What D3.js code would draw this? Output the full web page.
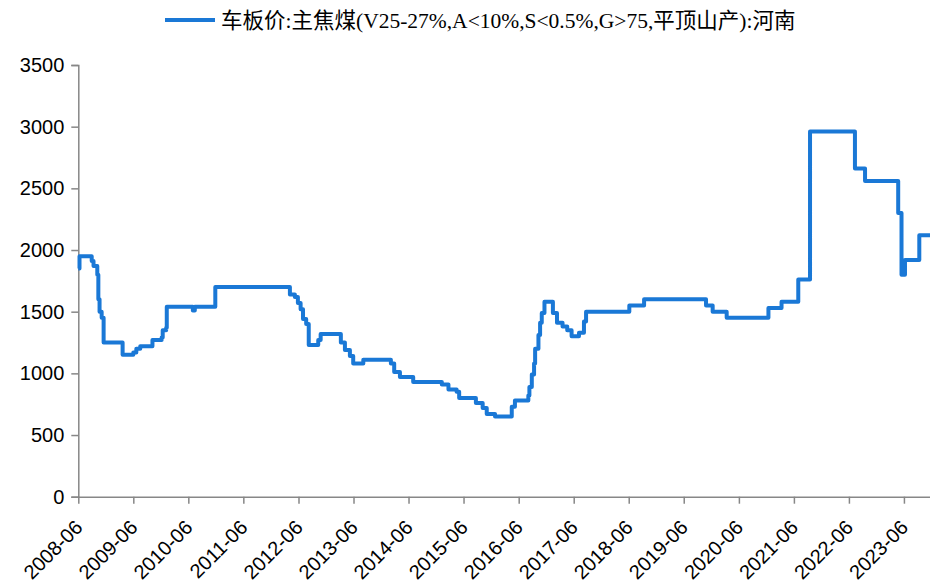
<!DOCTYPE html>
<html>
<head>
<meta charset="utf-8">
<script src="https://cdn.jsdelivr.net/npm/d3@7/dist/d3.min.js"></script>
<style>
  html, body { margin: 0; padding: 0; background: #fff; }
  svg { display: block; }
</style>
</head>
<body>
<svg id="chart" width="930" height="583"></svg>
<script>
// Step-change price dates (each value holds from its date until the next one)
const dates = [
  "2008-06-01","2008-06-09","2008-08-29","2008-09-10","2008-10-05","2008-10-12","2008-10-20","2008-11-03","2008-11-16",
  "2009-03-22","2009-06-01","2009-06-21","2009-07-17","2009-10-06","2009-12-06","2009-12-13","2010-01-05","2010-01-09",
  "2010-07-01","2010-07-14","2010-11-27",
  "2012-04-05","2012-05-08","2012-05-28","2012-06-15","2012-07-01","2012-07-22","2012-08-08","2012-10-10","2012-10-26",
  "2013-03-09","2013-04-05","2013-05-08","2013-05-30","2013-08-05",
  "2014-02-04","2014-02-26","2014-04-05","2014-07-02",
  "2015-01-08","2015-02-21","2015-04-16","2015-05-03","2015-08-22","2015-10-06","2015-11-02","2015-12-27",
  "2016-04-16","2016-05-07","2016-08-04","2016-08-11","2016-08-27","2016-09-11","2016-09-18","2016-10-10","2016-10-21","2016-11-01","2016-11-19",
  "2017-01-14","2017-02-10","2017-03-19","2017-04-19","2017-05-18","2017-07-06","2017-08-08","2017-08-22",
  "2018-06-05","2018-09-11",
  "2019-10-27","2019-12-10",
  "2020-03-12","2020-12-14",
  "2021-03-11","2021-06-30","2021-09-16",
  "2022-07-11","2022-09-16",
  "2023-04-24","2023-05-16","2023-06-08","2023-09-11","2023-11-21"
];

// 车板价 (元/吨)
const prices = [
  1850,1950,1910,1870,1800,1600,1500,1450,1250,
  1150,1170,1200,1220,1270,1290,1350,1370,1540,
  1510,1540,1700,
  1640,1620,1570,1520,1440,1400,1230,1270,1320,
  1250,1190,1140,1080,1110,
  1080,1010,970,930,
  910,870,850,800,760,720,670,650,
  730,780,820,890,990,1080,1200,1310,1410,1490,1580,
  1490,1410,1380,1350,1300,1330,1420,1500,
  1550,1600,
  1550,1500,
  1450,1530,
  1580,1760,2960,
  2660,2560,
  2300,1800,1920,2120,2120
];

const yTicks = [0, 500, 1000, 1500, 2000, 2500, 3000, 3500];
const xTickYears = d3.range(2008, 2024);
const seriesName = "车板价:主焦煤(V25-27%,A<10%,S<0.5%,G>75,平顶山产):河南";

const parse = d3.timeParse("%Y-%m-%d");
const data = dates.map((d, i) => ({ date: parse(d), value: prices[i] }));

const svg = d3.select("#chart");
const plotLeft = 78.3, plotRight = 930, plotTop = 65, plotBottom = 496.7;

const x = d3.scaleTime()
  .domain([parse("2008-06-01"), parse("2023-11-21")])
  .range([plotLeft, plotRight]);
const y = d3.scaleLinear().domain([0, 3500]).range([plotBottom, plotTop]);

const axisColor = "#878787";
const labelFont = "'Liberation Sans', Arial, sans-serif";

// Y axis
const yAxis = svg.append("g")
  .attr("transform", `translate(${plotLeft},0)`)
  .call(d3.axisLeft(y).tickValues(yTicks).tickSize(7).tickPadding(7).tickFormat(d3.format("d")));
yAxis.select(".domain").attr("stroke", axisColor).attr("stroke-width", 1.5);
yAxis.selectAll(".tick line").attr("stroke", axisColor).attr("stroke-width", 1.5);
yAxis.selectAll(".tick text")
  .attr("fill", "#000").style("font-family", labelFont).style("font-size", "20px");

// X axis with yearly June ticks
const xTicks = xTickYears.map(yr => new Date(yr, 5, 1));
const xAxis = svg.append("g")
  .attr("transform", `translate(0,${plotBottom})`)
  .call(d3.axisBottom(x).tickValues(xTicks).tickSize(7).tickSizeOuter(0).tickFormat(d3.timeFormat("%Y-%m")));
xAxis.select(".domain").attr("stroke", axisColor).attr("stroke-width", 1.5);
xAxis.selectAll(".tick line").attr("stroke", axisColor).attr("stroke-width", 1.5);
xAxis.selectAll(".tick text")
  .attr("fill", "#000")
  .style("font-family", labelFont).style("font-size", "20px")
  .attr("text-anchor", "end")
  .attr("dy", null)
  .attr("y", null)
  .attr("transform", "translate(5,32) rotate(-45)");

// Price line
const line = d3.line()
  .x(d => x(d.date))
  .y(d => y(d.value))
  .curve(d3.curveStepAfter);

svg.append("path")
  .datum(data)
  .attr("fill", "none")
  .attr("stroke", "#1a78d6")
  .attr("stroke-width", 4)
  .attr("stroke-linejoin", "round")
  .attr("d", line);

// Legend
const legend = svg.append("g").attr("transform", "translate(165,20)");
legend.append("line")
  .attr("x1", 0).attr("x2", 50).attr("y1", 0).attr("y2", 0)
  .attr("stroke", "#1a78d6").attr("stroke-width", 4);
legend.append("text")
  .attr("x", 56).attr("y", 0).attr("dy", "0.35em")
  .style("font-family", "'Liberation Serif', 'Times New Roman', 'Noto Sans CJK SC', serif")
  .style("font-size", "21.5px")
  .attr("fill", "#000")
  .text(seriesName);
</script>
</body>
</html>
